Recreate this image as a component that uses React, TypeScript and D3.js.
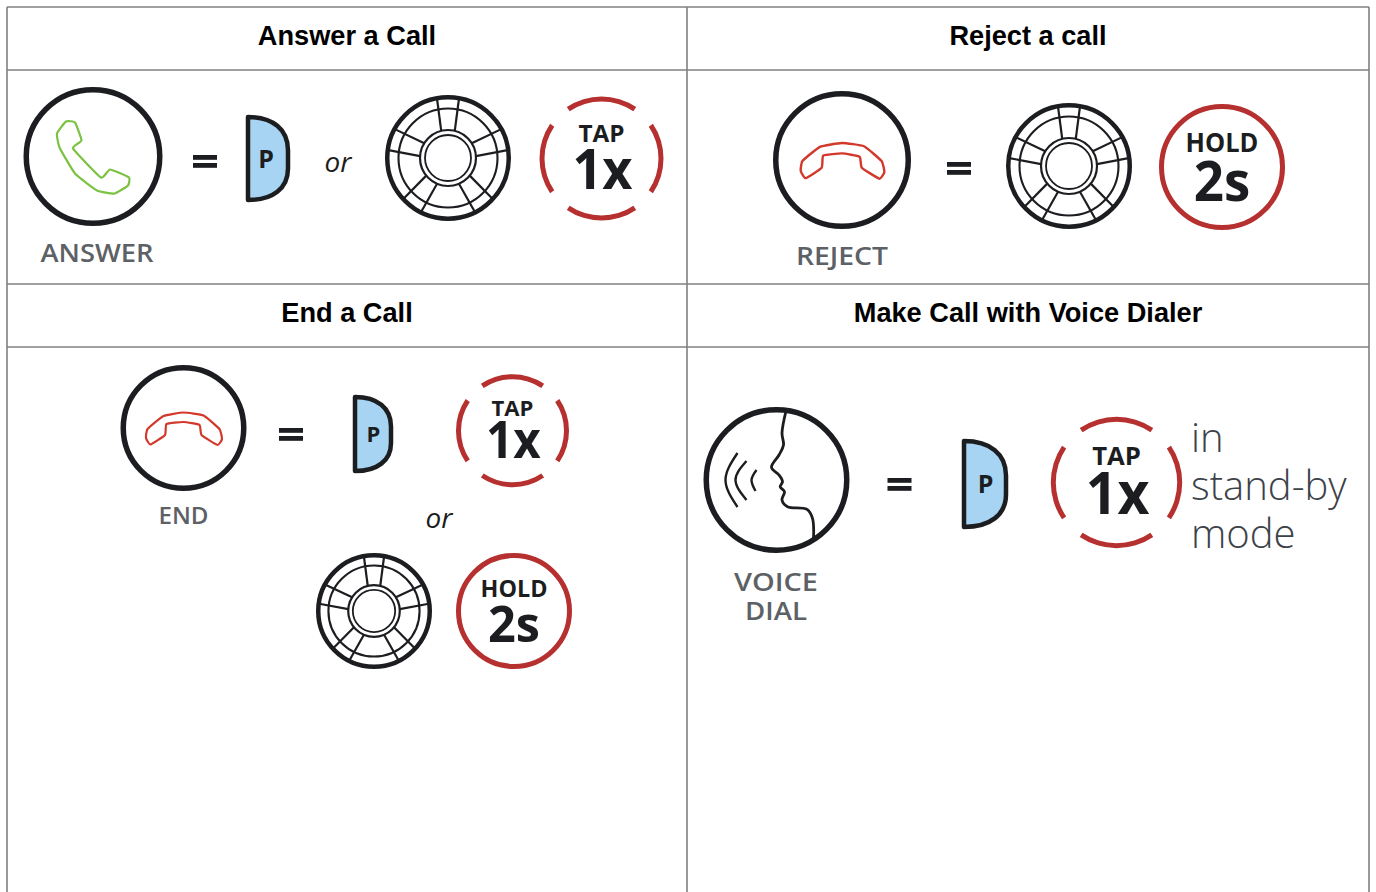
import React from 'react'
import * as d3 from 'd3'

// table text
const headers = ['Answer a Call', 'Reject a call', 'End a Call', 'Make Call with Voice Dialer']
const standBy = ['in', 'stand-by', 'mode']

const colEdges = [7, 687, 1369]
const rowEdges = [7, 70, 284, 347]

const INK = '#1c1d20'
const RED = '#b5302f'
const GREY = '#5d6166'
const SANS = '"Open Sans", sans-serif'

// tap ring gaps, degrees clockwise from 12 o'clock
const tapArcs = [[-34, 34], [56, 124], [146, 214], [236, 304]]
const knobSpokes = [0, 72, 143, 217, 288]

// outlines, px relative to the circle centre
const greenPhone = [[-27, -35], [-18, -34], [-11.5, -16], [-20, -8], [8, 21], [17, 13], [36, 21], [35, 29], [21.5, 37], [4, 34], [-18, 17], [-33.5, -9], [-36, -23]]
const redPhone = [[-37.5, 10], [-36, 1], [-20, -12], [0, -15.5], [20, -12.5], [36, 1], [38.5, 11], [34, 17], [18, 7], [16, -3], [0, -6], [-17, -4], [-18.5, 7], [-33, 16.5]]
const facePts = [[9.5, -69], [5.5, -47], [7, -35], [2.5, -25], [-5, -12.7], [2.5, -5], [6, 1.7], [3.7, 6.7], [8, 11.7], [5.5, 20], [11, 26.7], [30.5, 29.3], [36, 38.3], [37, 59]]
const voiceWaves = [
  [[-39, -27], [-51, 0], [-39, 27]],
  [[-30, -19], [-41, 0], [-30, 20]],
  [[-20, -10], [-25, 0], [-21, 11]],
]

const deg = (d: number) => (d * Math.PI) / 180
const closedLine = d3.line().curve(d3.curveCardinalClosed.tension(0.6))
const openLine = d3.line().curve(d3.curveCatmullRom.alpha(0.5))
const arc = d3.arc()

function Ring({ cx, cy, r, children }: any) {
  return (
    <g transform={`translate(${cx},${cy})`}>
      <circle r={r - 2.75} fill="none" stroke={INK} strokeWidth={5.5} />
      {children}
    </g>
  )
}

function Equals({ cx, cy }: { cx: number; cy: number }) {
  return (
    <g fill={INK}>
      <rect x={cx - 12} y={cy - 6} width={24} height={4.8} />
      <rect x={cx - 12} y={cy + 2} width={24} height={4.8} />
    </g>
  )
}

function PButton({ x, y, w, h, size, px }: any) {
  const sx = d3.scaleLinear().domain([0, 1]).range([x + 2, x + w - 2])
  const sy = d3.scaleLinear().domain([0, 1]).range([y + 2, y + h - 2])
  const p = d3.path()
  p.moveTo(sx(0), sy(0))
  p.bezierCurveTo(sx(0.62), sy(0), sx(1), sy(0.15), sx(1), sy(0.4))
  p.lineTo(sx(1), sy(0.62))
  p.bezierCurveTo(sx(1), sy(0.86), sx(0.62), sy(1), sx(0), sy(1))
  p.closePath()
  return (
    <g>
      <path d={p.toString()} fill="#a6d4f2" stroke={INK} strokeWidth={4.5} strokeLinejoin="round" />
      <text x={px} y={y + h * 0.5 + size * 0.36} textAnchor="middle" fontFamily={SANS} fontWeight={700} fontSize={size} fill={INK}>P</text>
    </g>
  )
}

function Knob({ cx, cy, r }: { cx: number; cy: number; r: number }) {
  const k = r / 63
  const spokeEdge = (a: number, side: number) => {
    const inner = deg(a + side * 14)
    const outer = deg(a + side * 10.5)
    return openLine([
      [28 * k * Math.sin(inner), -28 * k * Math.cos(inner)],
      [60 * k * Math.sin(outer), -60 * k * Math.cos(outer)],
    ]) as string
  }
  return (
    <g transform={`translate(${cx},${cy})`} fill="none" stroke={INK}>
      <circle r={r - 2.25} strokeWidth={4.5} />
      <circle r={49.5 * k} strokeWidth={2.1} />
      <circle r={28 * k} strokeWidth={2.2} />
      <circle r={23 * k} strokeWidth={1.8} />
      {knobSpokes.map(a => (
        <g key={a} strokeWidth={2.2}>
          <path d={spokeEdge(a, -1)} />
          <path d={spokeEdge(a, 1)} />
        </g>
      ))}
    </g>
  )
}

function TapBadge({ cx, cy, r }: { cx: number; cy: number; r: number }) {
  const k = r / 62
  return (
    <g transform={`translate(${cx},${cy})`}>
      {tapArcs.map(([a, b]) => (
        <path key={a} fill={RED} d={arc({ innerRadius: r - 5, outerRadius: r, startAngle: deg(a), endAngle: deg(b) } as any) as string} />
      ))}
      <g textAnchor="middle" fontFamily={SANS} fontWeight={700} fill={INK}>
        <text y={-16.5 * k} fontSize={24 * k} textLength={46 * k} lengthAdjust="spacingAndGlyphs">TAP</text>
        <text x={1 * k} y={30 * k} fontSize={56 * k} textLength={60 * k} lengthAdjust="spacingAndGlyphs">1x</text>
      </g>
    </g>
  )
}

function HoldBadge({ cx, cy, r }: { cx: number; cy: number; r: number }) {
  const k = r / 58
  return (
    <g transform={`translate(${cx},${cy})`}>
      <circle r={r - 2.5} fill="none" stroke={RED} strokeWidth={5} />
      <g textAnchor="middle" fontFamily={SANS} fontWeight={700} fill={INK}>
        <text y={-14 * k} fontSize={24 * k} textLength={67 * k} lengthAdjust="spacingAndGlyphs">HOLD</text>
        <text y={31 * k} fontSize={51 * k} textLength={52 * k} lengthAdjust="spacingAndGlyphs">2s</text>
      </g>
    </g>
  )
}

function Caption({ x, y, size = 25, len, children }: any) {
  return <text x={x} y={y} textAnchor="middle" fontFamily={SANS} fontWeight={600} fontSize={size} fill={GREY} textLength={len} lengthAdjust="spacingAndGlyphs">{children}</text>
}

function Or({ x, y }: { x: number; y: number }) {
  return <text x={x} y={y} textAnchor="middle" fontFamily={SANS} fontStyle="italic" fontSize={28} fill={INK}>or</text>
}

export default function App() {
  const headerPos = [[347, 45], [1028, 45], [347, 322], [1028, 322]]
  return (
    <svg width={1376} height={892} style={{ position: 'absolute', left: 0, top: 0, background: '#fff' }}>
      {/* table grid */}
      <g stroke="#808080" strokeWidth={1.6}>
        {colEdges.map(x => <line key={x} x1={x} x2={x} y1={rowEdges[0]} y2={892} />)}
        {rowEdges.map(y => <line key={y} x1={colEdges[0]} x2={colEdges[2]} y1={y} y2={y} />)}
      </g>
      {headers.map((h, i) => (
        <text key={h} x={headerPos[i][0]} y={headerPos[i][1]} textAnchor="middle" fontFamily='"Liberation Sans", Arial, sans-serif' fontWeight={700} fontSize={27.2} fill="#000">{h}</text>
      ))}

      {/* answer */}
      <Ring cx={93} cy={156.5} r={69.5}>
        <path d={closedLine(greenPhone as any) as string} fill="none" stroke="#7cc242" strokeWidth={2.2} />
      </Ring>
      <Caption x={97} y={262} len={113}>ANSWER</Caption>
      <Equals cx={205} cy={161} />
      <PButton x={246} y={115} w={44} h={87} size={25} px={266} />
      <Or x={338} y={172} />
      <Knob cx={448} cy={158} r={63} />
      <TapBadge cx={601.5} cy={158.5} r={62} />

      {/* reject */}
      <Ring cx={842} cy={160} r={69}>
        <path d={closedLine(redPhone as any) as string} fill="none" stroke="#d2392b" strokeWidth={2.2} transform="scale(1.1)" />
      </Ring>
      <Caption x={842} y={265} len={92}>REJECT</Caption>
      <Equals cx={959} cy={168} />
      <Knob cx={1069} cy={166} r={63} />
      <HoldBadge cx={1222} cy={167} r={63} />

      {/* end */}
      <Ring cx={183.5} cy={428} r={63}>
        <path d={closedLine(redPhone as any) as string} fill="none" stroke="#d2392b" strokeWidth={2.2} />
      </Ring>
      <Caption x={183.5} y={524} size={23} len={50}>END</Caption>
      <Equals cx={291} cy={434} />
      <PButton x={353} y={395} w={40} h={78} size={22} px={373.5} />
      <TapBadge cx={512.5} cy={430.7} r={56.5} />
      <Or x={439} y={528} />
      <Knob cx={374} cy={611} r={58} />
      <HoldBadge cx={514} cy={611} r={58} />

      {/* voice */}
      <Ring cx={776.5} cy={480} r={73}>
        <path d={openLine(facePts as any) as string} fill="none" stroke={INK} strokeWidth={2.8} />
        {voiceWaves.map((w, i) => (
          <path key={i} d={d3.line().curve(d3.curveNatural)(w as any) as string} fill="none" stroke={INK} strokeWidth={2.4} />
        ))}
      </Ring>
      <Caption x={776} y={591} len={84}>VOICE</Caption>
      <Caption x={776} y={620} len={62}>DIAL</Caption>
      <Equals cx={899.5} cy={484} />
      <PButton x={962} y={439} w={46} h={90} size={25} px={985.5} />
      <TapBadge cx={1116.5} cy={482.5} r={65.7} />
      <g fontFamily={SANS} fontWeight={300} fontSize={40} fill="#3c4248">
        {standBy.map((t, i) => (
          <text key={t} x={1191} y={452 + i * 48}>{t}</text>
        ))}
      </g>
    </svg>
  )
}
